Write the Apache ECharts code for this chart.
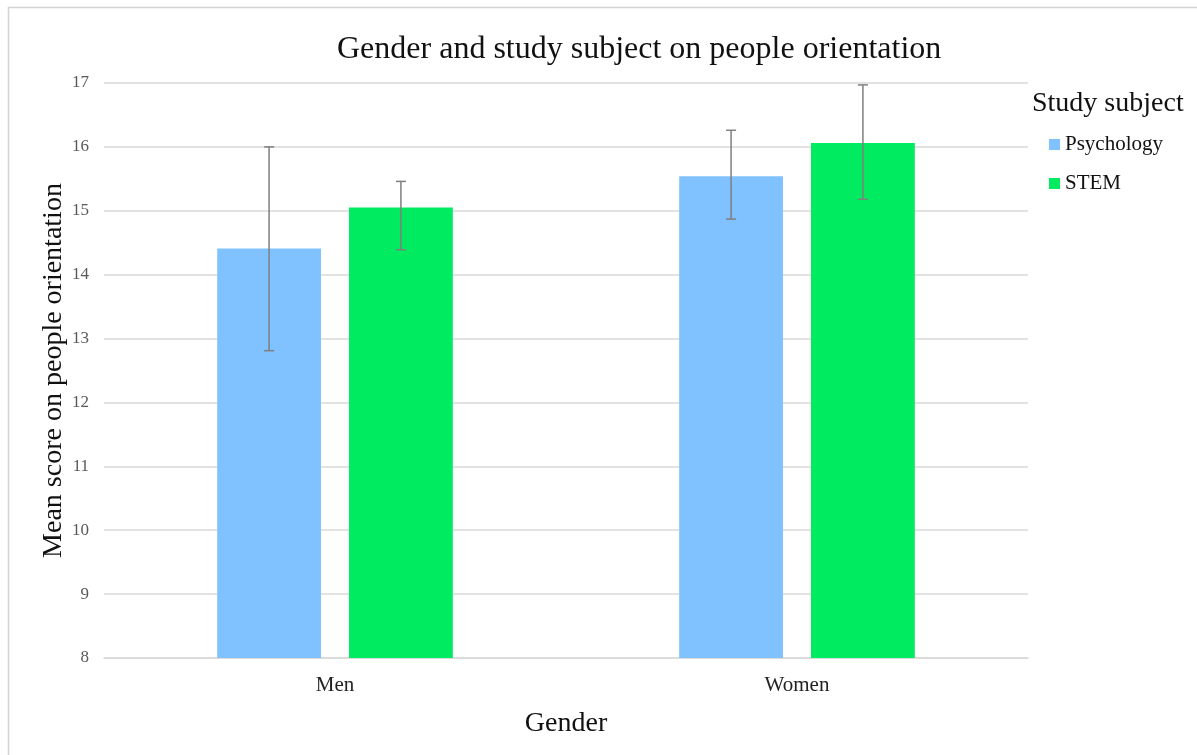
<!DOCTYPE html>
<html>
<head>
<meta charset="utf-8">
<script src="https://cdn.jsdelivr.net/npm/echarts@6/dist/echarts.min.js"></script>
<style>
html,body{margin:0;padding:0;background:#fff;}
#chart{width:1197px;height:755px;}
</style>
</head>
<body>
<div id="chart"></div>
<script>
const categories = ['Men', 'Women'];
const seriesNames = ['Psychology', 'STEM'];
const psychology = [14.41, 15.54];
const stem = [15.05, 16.06];
const psychologyLow = [12.81, 14.87];
const psychologyHigh = [16.0, 16.26];
const stemLow = [14.39, 15.18];
const stemHigh = [15.46, 16.97];
const yTicks = [8, 9, 10, 11, 12, 13, 14, 15, 16, 17];

const FONT = 'Liberation Serif';
const CAT_GAP = 0.49, BAR_GAP = 0.27;

function errorRenderer(side) {
  return function (params, api) {
    const cat = api.value(0);
    const low = api.coord([cat, api.value(1)]);
    const high = api.coord([cat, api.value(2)]);
    const band = api.size([1, 0])[0];
    const bw = band * (1 - CAT_GAP) / (2 + BAR_GAP);
    const x = low[0] + side * bw * (1 + BAR_GAP) / 2;
    const cap = 5;
    const style = { stroke: '#7f7f7f', lineWidth: 1.5 };
    return {
      type: 'group',
      children: [
        { type: 'line', shape: { x1: x, y1: high[1], x2: x, y2: low[1] }, style },
        { type: 'line', shape: { x1: x - cap, y1: high[1], x2: x + cap, y2: high[1] }, style },
        { type: 'line', shape: { x1: x - cap, y1: low[1], x2: x + cap, y2: low[1] }, style }
      ]
    };
  };
}

const chart = echarts.init(document.getElementById('chart'));
chart.setOption({
  animation: false,
  backgroundColor: '#fff',
  textStyle: { fontFamily: FONT },
  title: {
    text: 'Gender and study subject on people orientation',
    left: 337, top: 34, padding: 0,
    textStyle: { fontFamily: FONT, fontSize: 32, fontWeight: 'normal', color: '#111' }
  },
  graphic: [
    { type: 'rect', shape: { x: 8.5, y: 7.5, width: 1300, height: 900 },
      style: { fill: 'none', stroke: '#d4d4d4', lineWidth: 1.5 }, silent: true, z: -10 },
    { type: 'text', left: 1032, top: 90,
      style: { text: 'Study subject', fontFamily: FONT, fontSize: 28, fill: '#111' } }
  ],
  legend: {
    data: seriesNames,
    orient: 'vertical',
    left: 1049, top: 134, padding: 0,
    itemWidth: 11, itemHeight: 11, itemGap: 18,
    icon: 'rect',
    textStyle: { fontFamily: FONT, fontSize: 21, color: '#111', padding: [0, 0, 0, 0] }
  },
  grid: { left: 104, right: 169, top: 83, bottom: 97, containLabel: false },
  xAxis: {
    type: 'category',
    data: categories,
    name: 'Gender',
    nameLocation: 'middle',
    nameGap: 52,
    nameMoveOverlap: false,
    nameTextStyle: { fontFamily: FONT, fontSize: 28, color: '#111' },
    axisLine: { lineStyle: { color: '#d9d9d9', width: 1.5 } },
    axisTick: { show: false },
    axisLabel: { fontFamily: FONT, fontSize: 21, color: '#222', margin: 17 }
  },
  yAxis: {
    type: 'value',
    min: yTicks[0], max: yTicks[yTicks.length - 1], interval: 1,
    name: 'Mean score on people orientation',
    nameLocation: 'middle',
    nameGap: 36,
    nameMoveOverlap: false,
    nameTextStyle: { fontFamily: FONT, fontSize: 28, color: '#111' },
    axisLine: { show: false },
    axisTick: { show: false },
    splitLine: { lineStyle: { color: '#d9d9d9', width: 1.5 } },
    axisLabel: { fontFamily: FONT, fontSize: 17, color: '#595959', margin: 15 }
  },
  series: [
    { name: 'Psychology', type: 'bar', data: psychology, barCategoryGap: '49%', barGap: '27%',
      itemStyle: { color: '#80C2FF' } },
    { name: 'STEM', type: 'bar', data: stem, barCategoryGap: '49%', barGap: '27%',
      itemStyle: { color: '#00EB5F' } },
    { name: 'Psychology error', type: 'custom', renderItem: errorRenderer(-1),
      encode: { x: 0, y: [1, 2] }, z: 10,
      data: categories.map((c, i) => [i, psychologyLow[i], psychologyHigh[i]]) },
    { name: 'STEM error', type: 'custom', renderItem: errorRenderer(1),
      encode: { x: 0, y: [1, 2] }, z: 10,
      data: categories.map((c, i) => [i, stemLow[i], stemHigh[i]]) }
  ]
});
</script>
</body>
</html>
